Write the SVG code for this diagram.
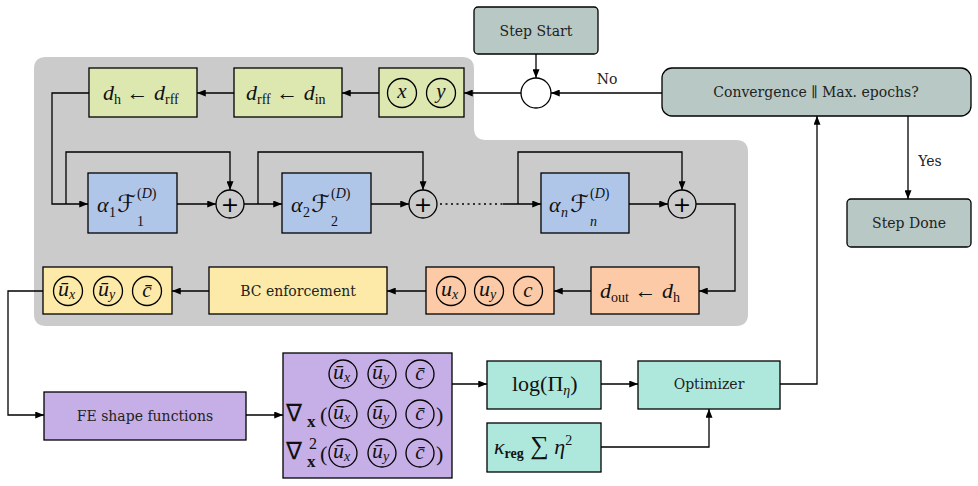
<svg xmlns="http://www.w3.org/2000/svg" width="978" height="486" viewBox="0 0 978 486">
<defs>
<marker id="arr" viewBox="0 0 10 8" refX="10" refY="4" markerWidth="9" markerHeight="7" orient="auto" markerUnits="userSpaceOnUse"><path d="M0,0 L10,4 L0,8 z" fill="#000"/></marker>
<style>
.bx{stroke:#000;stroke-width:1.3}
.grn{fill:#dde7b0}.blu{fill:#afc6e9}.yel{fill:#fdeaa8}.org{fill:#fccaa6}.pur{fill:#c6aee6}.tea{fill:#aee8dc}.gg{fill:#b8c9c5}
.c{fill:none;stroke:#000;stroke-width:1.3}
.t{font-family:'DejaVu Serif',serif;font-size:14px;fill:#222;text-anchor:middle}
.m{font-family:'Liberation Serif',serif;font-size:22px;fill:#111}
.mc{font-family:'Liberation Serif',serif;font-size:21px;fill:#111;text-anchor:middle}
.i{font-style:italic}
.s{font-size:14px}
.f{font-family:'DejaVu Sans',sans-serif;font-style:italic;font-size:24px}
.nb{font-family:'DejaVu Sans',sans-serif;font-size:24px}
.pl{font-family:'DejaVu Sans',sans-serif;font-size:22px;text-anchor:middle;fill:#000}
.ln{fill:none;stroke:#000;stroke-width:1.3;marker-end:url(#arr)}
.ln0{fill:none;stroke:#000;stroke-width:1.3}
</style>
</defs>
<rect width="978" height="486" fill="#fff"/>
<path d="M46,57 H462 Q474,57 474,69 V128 Q474,140 486,140 H736 Q748,140 748,152 V314 Q748,326 736,326 H46 Q34,326 34,314 V69 Q34,57 46,57 Z" fill="#cbcbcb"/>

<g id="connectors">
<path class="ln" d="M662,93 H551"/>
<path class="ln" d="M536,54 V78"/>
<path class="ln" d="M521,93 H464"/>
<path class="ln" d="M379,93 H342"/>
<path class="ln" d="M234,93 H197"/>
<path class="ln" d="M89,93 H52 V204 H88"/>
<path class="ln" d="M66,204 V152 H230 V190"/>
<path class="ln" d="M177,204 H216"/>
<path class="ln" d="M244,204 H282"/>
<path class="ln" d="M258,204 V152 H423 V190"/>
<path class="ln" d="M371,204 H409"/>
<path class="ln0" d="M440,204 H503" stroke-dasharray="2,3.5" stroke-width="2"/>
<path class="ln" d="M503,204 H541"/>
<path class="ln" d="M518,204 V152 H682 V190"/>
<path class="ln" d="M629,204 H668"/>
<path class="ln" d="M696,204 H735 V291 H699"/>
<path class="ln" d="M591,291 H554"/>
<path class="ln" d="M426,291 H387"/>
<path class="ln" d="M209,291 H172"/>
<path class="ln" d="M43,291 H8 V415 H44"/>
<path class="ln" d="M246,415 H283"/>
<path class="ln" d="M452,384 H487"/>
<path class="ln" d="M601,384 H638"/>
<path class="ln" d="M601,447 H709 V409"/>
<path class="ln" d="M780,384 H817 V116"/>
<path class="ln" d="M908,116 V199"/>
<text class="t" x="607" y="84">No</text>
<text class="t" x="930" y="166">Yes</text>
</g>

<g id="step-start"><rect class="bx gg" x="474" y="7" width="124" height="47" rx="4"/><text class="t" x="536" y="36">Step Start</text></g>
<g id="junction"><circle cx="536" cy="93" r="15" fill="#fff" stroke="#000" stroke-width="1.3"/></g>
<g id="convergence"><rect class="bx gg" x="662" y="68" width="309" height="48" rx="10"/><text class="t" x="816" y="97">Convergence ∥ Max. epochs?</text></g>
<g id="step-done"><rect class="bx gg" x="847" y="199" width="124" height="48" rx="4"/><text class="t" x="909" y="228">Step Done</text></g>

<g id="xy"><rect class="bx grn" x="379" y="68" width="85" height="49"/>
<circle class="c" cx="402" cy="93" r="14.5"/><circle class="c" cx="441" cy="93" r="14.5"/>
<text class="mc i" x="402" y="98">x</text><text class="mc i" x="441" y="98">y</text></g>
<g id="drff"><rect class="bx grn" x="234" y="68" width="108" height="49"/>
<text class="m" x="246" y="100"><tspan class="i">d</tspan><tspan class="s" dy="4">rff</tspan><tspan dy="-4"> ← </tspan><tspan class="i">d</tspan><tspan class="s" dy="4">in</tspan></text></g>
<g id="dh"><rect class="bx grn" x="89" y="68" width="108" height="49"/>
<text class="m" x="103" y="100"><tspan class="i">d</tspan><tspan class="s" dy="4">h</tspan><tspan dy="-4"> ← </tspan><tspan class="i">d</tspan><tspan class="s" dy="4">rff</tspan></text></g>

<g id="f1"><rect class="bx blu" x="88" y="173" width="89" height="60"/>
<text class="m"><tspan class="i" x="97" y="212">α</tspan><tspan class="s" x="109" y="217">1</tspan><tspan class="f" x="117" y="212">ℱ</tspan><tspan class="s" x="137" y="198">(<tspan class="i">D</tspan>)</tspan><tspan class="s" x="137" y="226">1</tspan></text></g>
<g id="plus1"><circle class="c" cx="230" cy="204" r="14"/><text class="pl" x="230" y="212">+</text></g>
<g id="f2"><rect class="bx blu" x="282" y="173" width="89" height="60"/>
<text class="m"><tspan class="i" x="291" y="212">α</tspan><tspan class="s" x="303" y="217">2</tspan><tspan class="f" x="311" y="212">ℱ</tspan><tspan class="s" x="331" y="198">(<tspan class="i">D</tspan>)</tspan><tspan class="s" x="331" y="226">2</tspan></text></g>
<g id="plus2"><circle class="c" cx="423" cy="204" r="14"/><text class="pl" x="423" y="212">+</text></g>
<g id="fn"><rect class="bx blu" x="541" y="173" width="88" height="60"/>
<text class="m"><tspan class="i" x="549" y="212">α</tspan><tspan class="s i" x="561" y="217">n</tspan><tspan class="f" x="570" y="212">ℱ</tspan><tspan class="s" x="590" y="198">(<tspan class="i">D</tspan>)</tspan><tspan class="s i" x="590" y="226">n</tspan></text></g>
<g id="plus3"><circle class="c" cx="682" cy="204" r="14"/><text class="pl" x="682" y="212">+</text></g>

<g id="dout"><rect class="bx org" x="591" y="267" width="108" height="47"/>
<text class="m" x="600" y="298"><tspan class="i">d</tspan><tspan class="s" dy="4">out</tspan><tspan dy="-4"> ← </tspan><tspan class="i">d</tspan><tspan class="s" dy="4">h</tspan></text></g>
<g id="u"><rect class="bx org" x="426" y="267" width="128" height="47"/>
<circle class="c" cx="451" cy="291" r="14.5"/><circle class="c" cx="489" cy="291" r="14.5"/><circle class="c" cx="528" cy="291" r="14.5"/>
<text class="m" x="441" y="296" font-size="21"><tspan class="i">u</tspan><tspan class="s i" dy="3" font-size="13">x</tspan></text>
<text class="m" x="479" y="296" font-size="21"><tspan class="i">u</tspan><tspan class="s i" dy="3" font-size="13">y</tspan></text>
<text class="mc i" x="528" y="297">c</text></g>
<g id="bc"><rect class="bx yel" x="209" y="267" width="178" height="47"/><text class="t" x="298" y="296">BC enforcement</text></g>
<g id="ubar"><rect class="bx yel" x="43" y="267" width="129" height="47"/>
<circle class="c" cx="68" cy="291" r="14.5"/><circle class="c" cx="108" cy="291" r="14.5"/><circle class="c" cx="147" cy="291" r="14.5"/>
<text class="m" x="58" y="296" font-size="21"><tspan class="i">ū</tspan><tspan class="s i" dy="3" font-size="13">x</tspan></text>
<text class="m" x="98" y="296" font-size="21"><tspan class="i">ū</tspan><tspan class="s i" dy="3" font-size="13">y</tspan></text>
<text class="mc i" x="147" y="297">c̄</text></g>

<g id="fe"><rect class="bx pur" x="44" y="392" width="202" height="48"/><text class="t" x="145" y="421">FE shape functions</text></g>
<g id="fields"><rect class="bx pur" x="283" y="353" width="169" height="125"/>
<circle class="c" cx="343" cy="374" r="14"/><circle class="c" cx="382" cy="374" r="14"/><circle class="c" cx="420" cy="374" r="14"/>
<text class="m" x="333" y="379" font-size="21"><tspan class="i">ū</tspan><tspan class="s i" dy="3" font-size="13">x</tspan></text>
<text class="m" x="372" y="379" font-size="21"><tspan class="i">ū</tspan><tspan class="s i" dy="3" font-size="13">y</tspan></text>
<text class="mc i" x="420" y="380">c̄</text>
<circle class="c" cx="343" cy="414" r="14"/><circle class="c" cx="382" cy="414" r="14"/><circle class="c" cx="420" cy="414" r="14"/>
<text class="m" x="333" y="419" font-size="21"><tspan class="i">ū</tspan><tspan class="s i" dy="3" font-size="13">x</tspan></text>
<text class="m" x="372" y="419" font-size="21"><tspan class="i">ū</tspan><tspan class="s i" dy="3" font-size="13">y</tspan></text>
<text class="mc i" x="420" y="420">c̄</text>
<circle class="c" cx="343" cy="453" r="14"/><circle class="c" cx="382" cy="453" r="14"/><circle class="c" cx="420" cy="453" r="14"/>
<text class="m" x="333" y="458" font-size="21"><tspan class="i">ū</tspan><tspan class="s i" dy="3" font-size="13">x</tspan></text>
<text class="m" x="372" y="458" font-size="21"><tspan class="i">ū</tspan><tspan class="s i" dy="3" font-size="13">y</tspan></text>
<text class="mc i" x="420" y="459">c̄</text>
<text class="m"><tspan class="nb" x="286" y="421">∇</tspan><tspan x="307" y="427" font-size="17" font-weight="bold">x</tspan></text>
<text class="m" x="320" y="422" font-size="27">(</text><text class="m" x="436" y="422" font-size="27">)</text>
<text class="m"><tspan class="nb" x="286" y="459">∇</tspan><tspan x="309" y="449" font-size="16">2</tspan><tspan x="307" y="467" font-size="17" font-weight="bold">x</tspan></text>
<text class="m" x="320" y="461" font-size="27">(</text><text class="m" x="436" y="461" font-size="27">)</text></g>

<g id="log"><rect class="bx tea" x="487" y="361" width="114" height="48"/>
<text class="m" x="512" y="391">log(Π<tspan class="s i" dy="4">η</tspan><tspan dy="-4">)</tspan></text></g>
<g id="kappa"><rect class="bx tea" x="487" y="423" width="114" height="49"/>
<text class="m" x="494" y="454"><tspan class="i">κ</tspan><tspan class="s" font-weight="bold" dy="4">reg</tspan><tspan dy="-4" font-size="26"> ∑</tspan><tspan class="i"> η</tspan><tspan class="s" dy="-9">2</tspan></text></g>
<g id="optimizer"><rect class="bx tea" x="638" y="361" width="142" height="48"/><text class="t" x="709" y="389">Optimizer</text></g>
</svg>
